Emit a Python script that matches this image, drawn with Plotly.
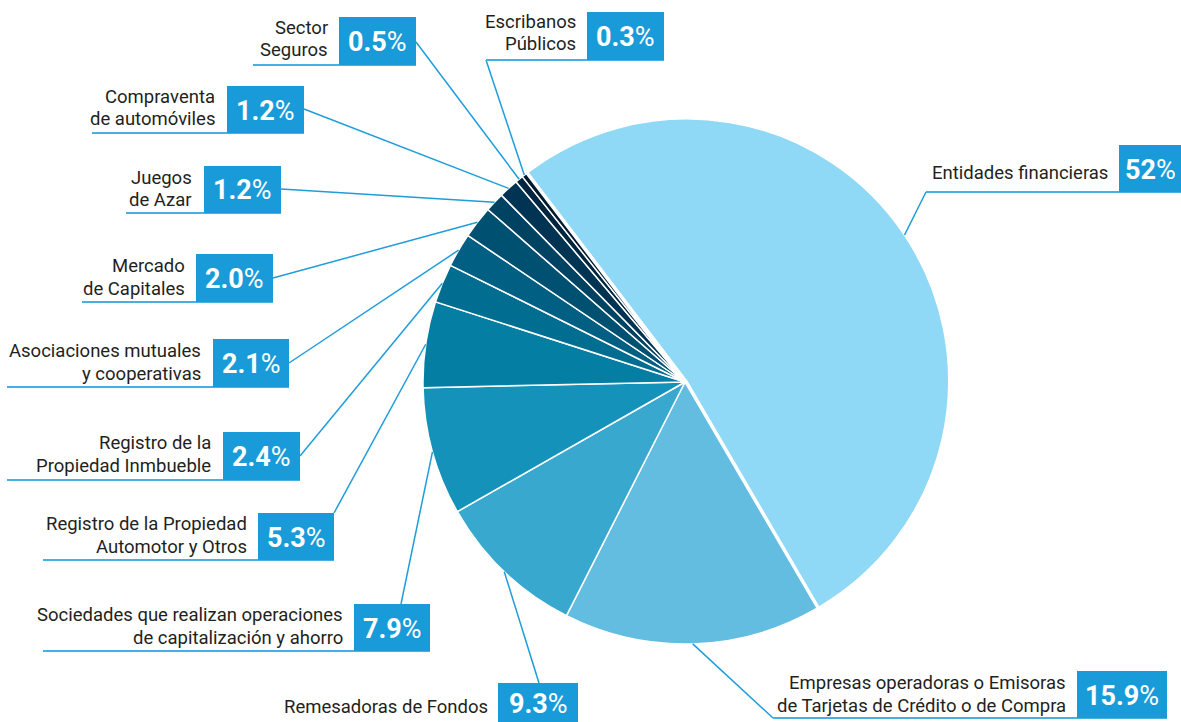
import math
import plotly.graph_objects as go

# ---------------- data ----------------
categories = [
    "Entidades financieras",
    "Empresas operadoras o Emisoras<br>de Tarjetas de Crédito o de Compra",
    "Remesadoras de Fondos",
    "Sociedades que realizan operaciones<br>de capitalización y ahorro",
    "Registro de la Propiedad<br>Automotor y Otros",
    "Registro de la<br>Propiedad Inmbueble",
    "Asociaciones mutuales<br>y cooperativas",
    "Mercado<br>de Capitales",
    "Juegos<br>de Azar",
    "Compraventa<br>de automóviles",
    "Sector<br>Seguros",
    "Escribanos<br>Públicos",
]
values = [52, 15.9, 9.3, 7.9, 5.3, 2.4, 2.1, 2.0, 1.2, 1.2, 0.5, 0.3]
pct_labels = ["52", "15.9", "9.3", "7.9", "5.3", "2.4", "2.1", "2.0", "1.2", "1.2", "0.5", "0.3"]
colors = ["#8fd8f6", "#63bde1", "#38a8ce", "#1592b9", "#047ea3", "#006d91",
          "#005f83", "#005071", "#004262", "#003452", "#00263f", "#001a30"]

# ---------------- layout constants (pixels) ----------------
W, H = 1181, 722
CX, CY, R = 685, 382, 262
ROT = -37.3
PULL0 = 0.008

BOX = "#189bd8"
LINE = "#1f9ddb"
UNDER = "#45b0e3"
TXT = "#231f20"
FONT = "Roboto, Arial, sans-serif"

# per label: box (x0,y0,x1,y1), text right x, line y centres, underline x start (None = no underline), anchor
lay = [
    dict(box=(1119, 145, 1181, 192), tx=1110, ly=[173], ux=926, anc=(926, 192)),
    dict(box=(1077, 671, 1167, 718), tx=1068, ly=[683, 706], ux=773, anc=(773, 718)),
    dict(box=(498, 683, 578, 722), tx=490, ly=[707], ux=None, anc=(539, 683)),
    dict(box=(354, 604, 430, 651), tx=345, ly=[615, 638], ux=43, anc=(401, 604)),
    dict(box=(258, 513, 334, 560), tx=249, ly=[524, 547], ux=43, anc=(334, 513)),
    dict(box=(223, 432, 300, 480), tx=213, ly=[443, 466], ux=7, anc=(300, 456)),
    dict(box=(213, 339, 289, 387), tx=203, ly=[351, 374], ux=7, anc=(289, 363)),
    dict(box=(196, 254, 273, 302), tx=187, ly=[266, 289], ux=82, anc=(273, 278)),
    dict(box=(204, 166, 281, 213), tx=194, ly=[178, 200], ux=126, anc=(281, 189)),
    dict(box=(227, 86, 304, 133), tx=217, ly=[97, 119], ux=92, anc=(304, 109)),
    dict(box=(339, 17, 416, 65), tx=330, ly=[28, 50], ux=253, anc=(416, 42)),
    dict(box=(587, 12, 664, 60), tx=578, ly=[22, 44], ux=486, anc=(486, 60)),
]


def px(x):
    return x / W


def py(y):
    return 1 - y / H


fig = go.Figure()
half = R * (1 + PULL0)
fig.add_trace(go.Pie(
    labels=[c.replace("<br>", " ") for c in categories],
    values=values,
    sort=False,
    direction="clockwise",
    rotation=ROT,
    pull=[PULL0] + [0] * (len(values) - 1),
    marker=dict(colors=colors, line=dict(color="white", width=1.5)),
    textinfo="none",
    hoverinfo="label+percent",
    showlegend=False,
    domain=dict(x=[px(CX - half), px(CX + half)], y=[py(CY + half), py(CY - half)]),
))

shapes = []
annotations = []
total = sum(values)
cum = 0.0
for i, (cat, v, pl, L) in enumerate(zip(categories, values, pct_labels, lay)):
    mid = cum + v / 2
    cum += v
    ang = math.radians(ROT + 360 * mid / total)
    ox = oy = 0.0
    if i == 0:
        ox, oy = PULL0 * R * math.sin(ang), -PULL0 * R * math.cos(ang)
    ex = CX + ox + R * math.sin(ang)
    ey = CY + oy - R * math.cos(ang)
    ax, ay = L["anc"]
    shapes.append(dict(type="line", xref="paper", yref="paper",
                       x0=px(ax), y0=py(ay), x1=px(ex), y1=py(ey),
                       line=dict(color=LINE, width=1.5), layer="above"))
    x0, y0, x1, y1 = L["box"]
    if L["ux"] is not None:
        shapes.append(dict(type="line", xref="paper", yref="paper",
                           x0=px(L["ux"]), y0=py(y1), x1=px(x1), y1=py(y1),
                           line=dict(color=UNDER, width=2), layer="above"))
    shapes.append(dict(type="rect", xref="paper", yref="paper",
                       x0=px(x0), y0=py(y0), x1=px(x1), y1=py(y1),
                       fillcolor=BOX, line=dict(width=0), layer="above"))
    annotations.append(dict(xref="paper", yref="paper",
                            x=px((x0 + x1) / 2), y=py((y0 + y1) / 2 + 1),
                            xanchor="center", yanchor="middle", showarrow=False,
                            text=f"<b>{pl}</b>%",
                            font=dict(family=FONT, size=27, color="white")))
    for line_txt, ly in zip(cat.split("<br>"), L["ly"]):
        annotations.append(dict(xref="paper", yref="paper",
                                x=px(L["tx"]), y=py(ly),
                                xanchor="right", yanchor="middle", showarrow=False,
                                text=line_txt,
                                font=dict(family=FONT, size=18.5, color=TXT)))

fig.update_layout(
    width=W, height=H,
    margin=dict(l=0, r=0, t=0, b=0),
    paper_bgcolor="white", plot_bgcolor="white",
    shapes=shapes, annotations=annotations,
)
fig.write_html("out.html",
               config={"displayModeBar": False},
               post_script="document.body.style.margin='0px';document.body.style.overflow='hidden';")
